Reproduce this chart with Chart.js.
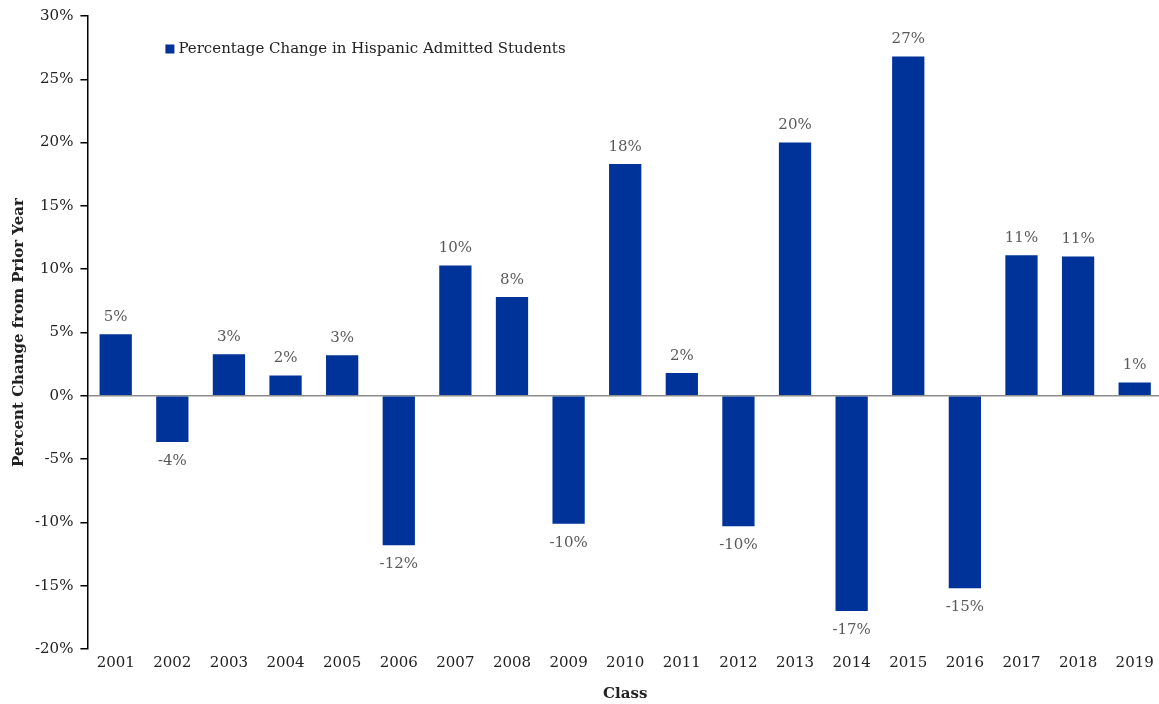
<!DOCTYPE html>
<html>
<head>
<meta charset="utf-8">
<script src="https://cdn.jsdelivr.net/npm/chart.js@4/dist/chart.umd.min.js"></script>
<style>
  html, body { margin: 0; padding: 0; background: #fff; overflow: hidden; }
  #wrap { width: 1163px; height: 704px; position: relative; }
</style>
</head>
<body>
<div id="wrap"><canvas id="grafico"></canvas></div>
<script>
// dados
const classes = ['2001', '2002', '2003', '2004', '2005', '2006', '2007', '2008', '2009', '2010',
                 '2011', '2012', '2013', '2014', '2015', '2016', '2017', '2018', '2019'];
const variacao = [4.86, -3.65, 3.28, 1.6, 3.2, -11.8, 10.3, 7.8, -10.1, 18.3,
                  1.8, -10.3, 20.0, -17.0, 26.8, -15.2, 11.1, 11.0, 1.05];
const rotulos = ['5%', '-4%', '3%', '2%', '3%', '-12%', '10%', '8%', '-10%', '18%',
                 '2%', '-10%', '20%', '-17%', '27%', '-15%', '11%', '11%', '1%'];
const serie = 'Percentage Change in Hispanic Admitted Students';
const corBarra = '#003399';

Chart.defaults.font.family = "'DejaVu Serif', serif";
Chart.defaults.font.size = 15;
Chart.defaults.color = '#222';

// rótulos de valor acima/abaixo das barras
const pluginRotulos = {
    id: 'rotulos',
    afterDatasetsDraw(chart) {
        const ctx = chart.ctx;
        const meta = chart.getDatasetMeta(0);
        ctx.save();
        ctx.font = "15px 'DejaVu Serif', serif";
        ctx.fillStyle = '#595959';
        ctx.textAlign = 'center';
        ctx.textBaseline = 'middle';
        meta.data.forEach((bar, i) => {
            const v = variacao[i];
            const y = v >= 0 ? bar.y - 17 : bar.y + 19;
            ctx.fillText(rotulos[i], bar.x, y);
        });
        ctx.restore();
    }
};

// legenda dentro da área do gráfico
const pluginLegenda = {
    id: 'legendaInterna',
    afterDraw(chart) {
        const ctx = chart.ctx;
        const area = chart.chartArea;
        const x = area.left + 78;
        const y = area.top + 33;
        ctx.save();
        ctx.fillStyle = corBarra;
        ctx.fillRect(x, y - 4.5, 9, 9);
        ctx.font = "15px 'DejaVu Serif', serif";
        ctx.fillStyle = '#222';
        ctx.textAlign = 'left';
        ctx.textBaseline = 'middle';
        ctx.fillText(serie, x + 13, y);
        ctx.restore();
    }
};

new Chart(document.getElementById('grafico'), {
    type: 'bar',
    data: {
        labels: classes,
        datasets: [{
            label: serie,
            data: variacao,
            backgroundColor: corBarra,
            borderWidth: 0,
            categoryPercentage: 1,
            barPercentage: 0.57
        }]
    },
    options: {
        responsive: true,
        maintainAspectRatio: false,
        animation: false,
        layout: {
            padding: { top: 7, right: 0, bottom: 0, left: 10 }
        },
        plugins: {
            legend: { display: false },
            tooltip: { enabled: false }
        },
        scales: {
            x: {
                grid: { display: false, drawTicks: false, tickLength: 0 },
                border: { display: false },
                ticks: { color: '#222', padding: 5, maxRotation: 0, autoSkip: false },
                title: {
                    display: true,
                    text: 'Class',
                    color: '#222',
                    font: { weight: 'bold', size: 15 },
                    padding: { top: 8, bottom: 1 }
                }
            },
            y: {
                min: -20,
                max: 30,
                ticks: {
                    stepSize: 5,
                    color: '#222',
                    padding: 7,
                    callback: v => v + '%'
                },
                grid: {
                    drawOnChartArea: true,
                    color: c => (c.tick && c.tick.value === 0) ? '#8c8c8c' : 'rgba(0,0,0,0)',
                    lineWidth: 1.5,
                    tickColor: '#000',
                    tickLength: 7
                },
                border: { display: true, color: '#000', width: 1.5 },
                title: {
                    display: true,
                    text: 'Percent Change from Prior Year',
                    color: '#222',
                    font: { weight: 'bold', size: 15 },
                    padding: { top: 0, bottom: 0 }
                }
            }
        }
    },
    plugins: [pluginRotulos, pluginLegenda]
});
</script>
</body>
</html>
